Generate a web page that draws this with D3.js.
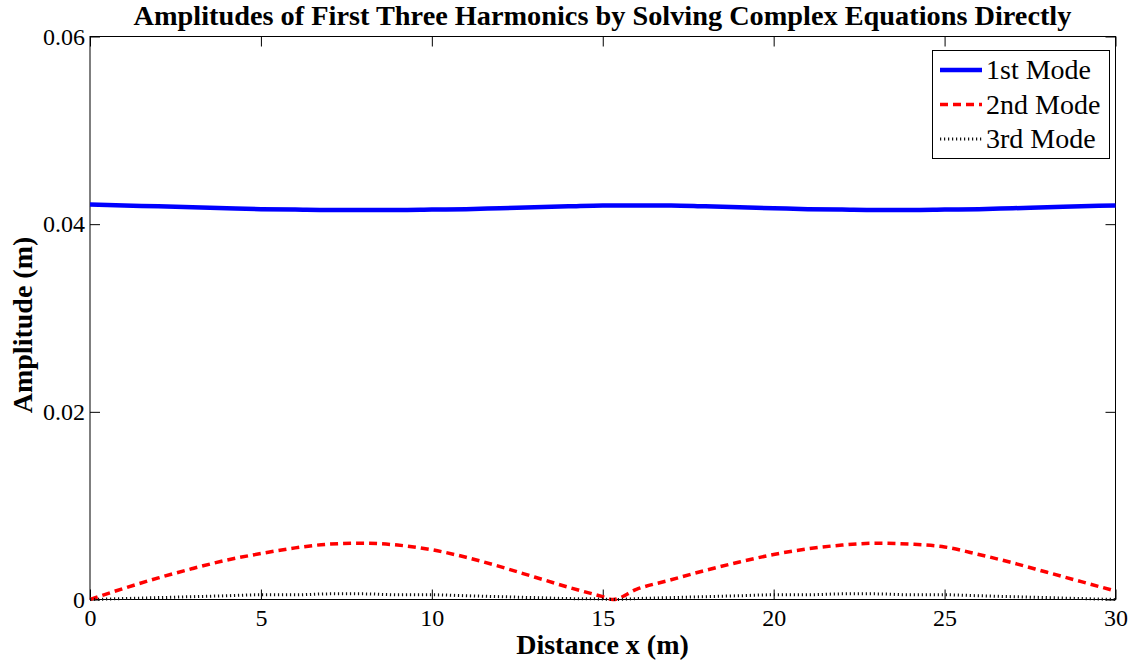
<!DOCTYPE html>
<html><head><meta charset="utf-8">
<script src="https://cdn.jsdelivr.net/npm/d3@7"></script>
<style>body{margin:0;background:#fff}svg{display:block}</style>
</head><body><svg id="c" width="1135" height="664"></svg>
<script>
const xs =      [0,1,2,3,4,5,6,7,8,9,10,11,12,13,14,15,15.3,16,17,18,19,20,21,22,23,24,25,26,27,28,29,30];
const mode1 =   [0.0421,0.0420,0.0419,0.0418,0.0417,0.0416,0.04155,0.0415,0.0415,0.0415,0.04155,0.0416,0.0417,0.0418,0.0419,0.0420,0.0420,0.0420,0.0420,0.0419,0.0418,0.0417,0.0416,0.04155,0.0415,0.0415,0.04155,0.0416,0.0417,0.0418,0.0419,0.0420];
const mode2 =   [0,0.0012,0.0023,0.0033,0.0042,0.0049,0.0055,0.0059,0.0060,0.0058,0.0053,0.0045,0.0035,0.0024,0.0013,0.0003,0,0.0011,0.0021,0.0031,0.0040,0.0048,0.0054,0.0058,0.0060,0.0059,0.0056,0.0048,0.0039,0.0029,0.0019,0.0009];
const mode3 =   [0,0.0001,0.0002,0.0003,0.0004,0.0005,0.0005,0.0006,0.0006,0.0005,0.0005,0.0004,0.0003,0.0002,0.0001,0.00005,0,0.0001,0.0002,0.0003,0.0004,0.0005,0.0005,0.0006,0.0006,0.0005,0.0005,0.0004,0.0003,0.0002,0.0001,0];
const xTicks = [0,5,10,15,20,25,30];
const yTicks = [0,0.02,0.04,0.06];
const yTickLabels = ["0","0.02","0.04","0.06"];
const seriesNames = ["1st Mode","2nd Mode","3rd Mode"];
const title = "Amplitudes of First Three Harmonics by Solving Complex Equations Directly";

const FONT = "'Liberation Serif','Times New Roman',Times,serif";
const svg = d3.select("#c");
const L=90,R=1115.5,T=36.5,B=599.5;
const x = d3.scaleLinear().domain([0,30]).range([L,R]);
const y = d3.scaleLinear().domain([0,0.06]).range([B,T]);

const styles = [
  {color:"#0000ff", width:4.5, dash:null},
  {color:"#ff0000", width:3.5, dash:"8,5"},
  {color:"#111111", width:3, dash:"1.2,2.8"}
];
const series = [mode1,mode2,mode3];

const g = svg.append("g");
g.append("rect").attr("x",L).attr("y",T).attr("width",R-L).attr("height",B-T)
 .attr("fill","none").attr("stroke","#000").attr("stroke-width",1);

const styleText = a=>{a.select(".domain").remove();
  a.selectAll("text").style("font-family",FONT).style("font-size","24px").attr("fill","#000");};
g.append("g").attr("transform",`translate(0,${B})`)
 .call(d3.axisBottom(x).tickValues(xTicks).tickSize(-10).tickPadding(9).tickFormat(d3.format("d")))
 .call(styleText);
g.append("g").attr("transform",`translate(0,${T})`)
 .call(d3.axisTop(x).tickValues(xTicks).tickSize(-10).tickFormat(""))
 .call(a=>a.select(".domain").remove());
g.append("g").attr("transform",`translate(${L},0)`)
 .call(d3.axisLeft(y).tickValues(yTicks).tickSize(-10).tickPadding(5).tickFormat((d,i)=>yTickLabels[i]))
 .call(styleText);
g.append("g").attr("transform",`translate(${R},0)`)
 .call(d3.axisRight(y).tickValues(yTicks).tickSize(-10).tickFormat(""))
 .call(a=>a.select(".domain").remove());

const line = d3.line().x((d,i)=>x(xs[i])).y(d=>y(d)).curve(d3.curveMonotoneX);
series.forEach((s,k)=>{
  g.append("path").datum(s).attr("d",line).attr("fill","none")
   .attr("stroke",styles[k].color).attr("stroke-width",styles[k].width)
   .attr("stroke-dasharray",styles[k].dash);
});

const lg = svg.append("g");
lg.append("rect").attr("x",932.5).attr("y",50.5).attr("width",177).attr("height",108)
  .attr("fill","#fff").attr("stroke","#000").attr("stroke-width",1);
seriesNames.forEach((n,k)=>{
  const yy = 70 + k*34.5;
  lg.append("line").attr("x1",940).attr("x2",982).attr("y1",yy).attr("y2",yy)
    .attr("stroke",styles[k].color).attr("stroke-width",styles[k].width)
    .attr("stroke-dasharray",styles[k].dash);
  lg.append("text").attr("x",986).attr("y",yy+9).style("font-family",FONT).style("font-size","28px").text(n);
});

svg.append("text").attr("x",602.5).attr("y",25).attr("text-anchor","middle").style("font-family",FONT)
  .style("font-size","28.3px").style("font-weight","bold").text(title);
svg.append("text").attr("x",602.5).attr("y",654).attr("text-anchor","middle").style("font-family",FONT)
  .style("font-size","28px").style("font-weight","bold").text("Distance x (m)");
svg.append("text").attr("transform","translate(32,325) rotate(-90)").attr("text-anchor","middle").style("font-family",FONT)
  .style("font-size","28px").style("font-weight","bold").text("Amplitude (m)");
</script></body></html>
